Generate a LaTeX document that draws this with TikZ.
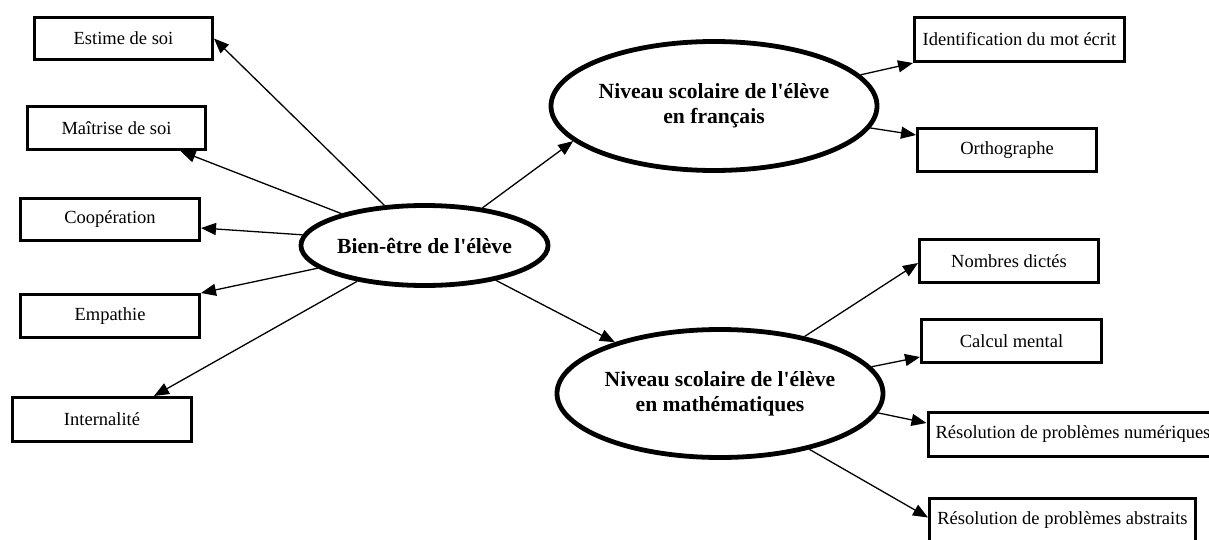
\documentclass[tikz,border=0pt]{standalone}
\usepackage{fontspec}
\setmainfont{Liberation Serif}
\newfontfamily\plainserif{Liberation Serif}
\usetikzlibrary{arrows.meta,calc,shapes.geometric}
\begin{document}
\begin{tikzpicture}[x=1pt,y=-1pt,
  box/.style={draw, line width=3pt, inner sep=0pt, font=\plainserif\fontsize{18.5}{22}\selectfont},
  oval/.style={draw, ellipse, line width=4.8pt, inner sep=0pt, align=center, font=\plainserif\bfseries\fontsize{21.6}{25}\selectfont},
  arr/.style={line width=1.3pt, -{Triangle[length=15pt,width=12pt]}}]
\clip (0,0) rectangle (1209,540);
\fill[white] (0,0) rectangle (1209,540);
% left boxes
\node[box, minimum width=178pt, minimum height=42pt] (estime) at (123.5,38.5) {Estime de soi};
\node[box, minimum width=178pt, minimum height=43pt] (maitrise) at (116.5,128) {Maîtrise de soi};
\node[box, minimum width=179pt, minimum height=42pt] (coop) at (110,219.5) {Coopération};
\node[box, minimum width=179pt, minimum height=43pt] (empathie) at (110,316) {Empathie};
\node[box, minimum width=179pt, minimum height=44pt] (intern) at (102,419.5) {Internalité};
% ellipses
\node[oval, minimum width=208pt, minimum height=80pt] (bien) at (424.5,245.5) {Bien-être de l'élève};
\node[oval, minimum width=279pt, minimum height=129pt] (fr) at (714,106) {Niveau scolaire de l'élève\\en français};
\node[oval, minimum width=281pt, minimum height=128pt] (math) at (720,393.5) {Niveau scolaire de l'élève\\en mathématiques};
% right boxes
\node[box, minimum width=210pt, minimum height=44pt] (ident) at (1019.5,39.5) {Identification du mot écrit};
\node[box, minimum width=179pt, minimum height=43pt] (ortho) at (1007,150) {Orthographe};
\node[box, minimum width=179pt, minimum height=43pt] (nombres) at (1009,261) {Nombres dictés};
\node[box, minimum width=180pt, minimum height=43pt] (calcul) at (1011.5,341) {Calcul mental};
\node[box, anchor=west, inner xsep=7.5pt, minimum height=44pt] (num) at (926.5,434.5) {Résolution de problèmes numériques};
\node[box, minimum width=266pt, minimum height=44pt] (abstr) at (1062.5,520.5) {Résolution de problèmes abstraits};
% arrows from bien
\draw[arr] (bien.135.7) -- (estime.east);
\draw[arr] (bien.159) -- ($(maitrise.south)+(64,0)$);
\draw[arr] (bien.175.5) -- ($(coop.east)+(0,8.5)$);
\draw[arr] (bien.192.4) -- (empathie.north east);
\draw[arr] (bien.208.8) -- ($(intern.north)+(52,0)$);
\draw[arr] (bien.33.1) -- (fr.194.1);
\draw[arr] (bien.-26.7) -- (math.154.1);
% francais
\draw[arr] (fr.12.2) -- (ident.south west);
\draw[arr] (fr.-8.8) -- ($(ortho.west)+(0,-15)$);
% math
\draw[arr] (math.34.1) -- ($(nombres.west)+(0,2)$);
\draw[arr] (math.10.4) -- ($(calcul.west)+(0,16)$);
\draw[arr] (math.-7.1) -- ($(num.west)+(0,-11.5)$);
\draw[arr] (math.-32.1) -- ($(abstr.west)+(0,-3)$);
\end{tikzpicture}
\end{document}
